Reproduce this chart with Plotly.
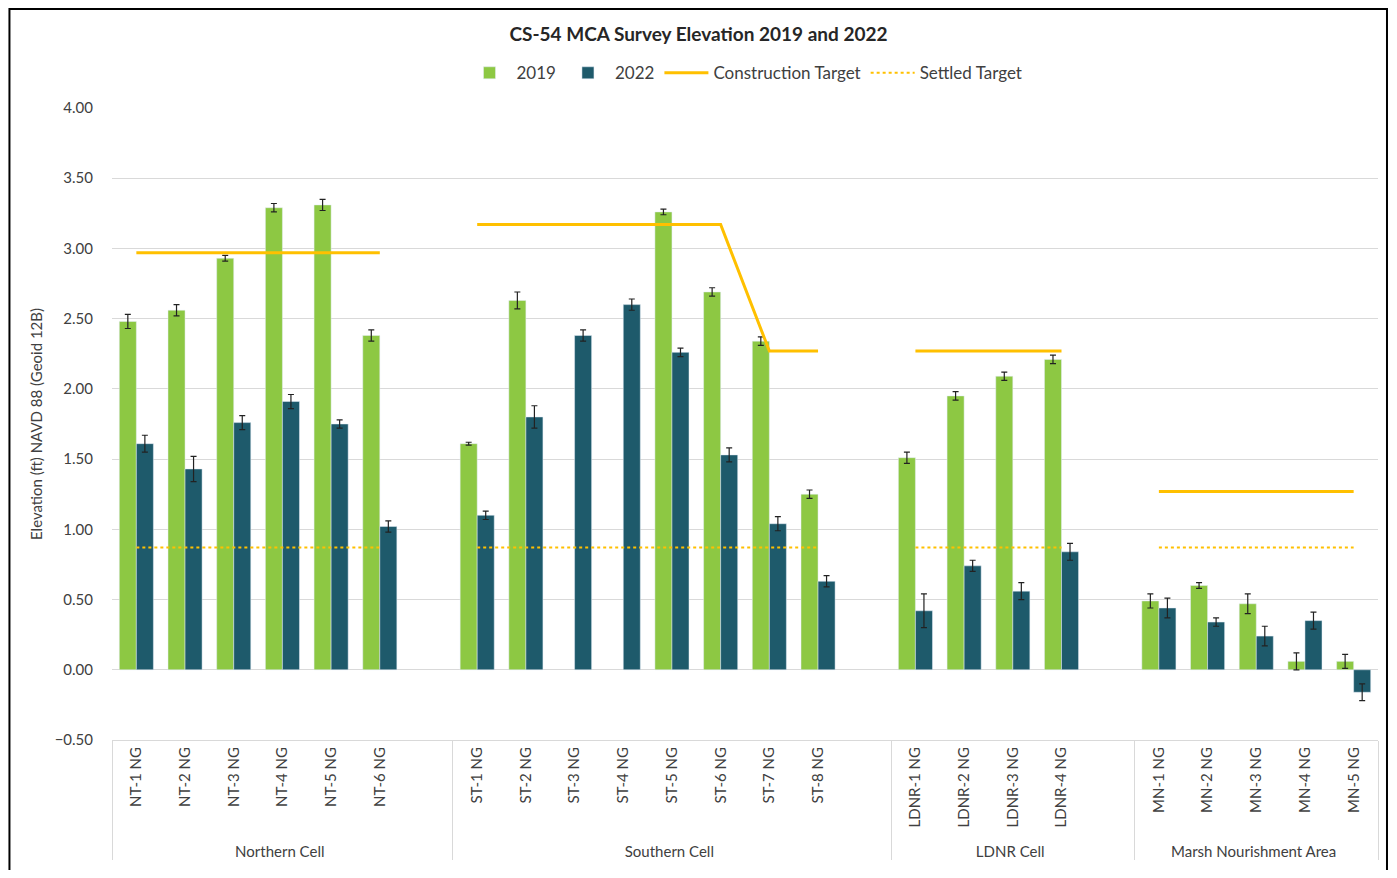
import plotly.graph_objects as go

# category layout (a blank slot closes each of the first three groups, as in the source sheet)
groups = ["Northern Cell"] * 7 + ["Southern Cell"] * 9 + ["LDNR Cell"] * 5 + ["Marsh Nourishment Area"] * 5
stations = [
    "NT-1 NG", "NT-2 NG", "NT-3 NG", "NT-4 NG", "NT-5 NG", "NT-6 NG", " ",
    "ST-1 NG", "ST-2 NG", "ST-3 NG", "ST-4 NG", "ST-5 NG", "ST-6 NG", "ST-7 NG", "ST-8 NG", "  ",
    "LDNR-1 NG", "LDNR-2 NG", "LDNR-3 NG", "LDNR-4 NG", "   ",
    "MN-1 NG", "MN-2 NG", "MN-3 NG", "MN-4 NG", "MN-5 NG",
]

elev_2019 = [
    2.48, 2.56, 2.93, 3.29, 3.31, 2.38, None,
    1.61, 2.63, None, None, 3.26, 2.69, 2.34, 1.25, None,
    1.51, 1.95, 2.09, 2.21, None,
    0.49, 0.60, 0.47, 0.06, 0.06,
]
err_2019 = [
    0.05, 0.04, 0.02, 0.03, 0.04, 0.04, 0,
    0.01, 0.06, 0, 0, 0.02, 0.03, 0.03, 0.03, 0,
    0.04, 0.03, 0.03, 0.03, 0,
    0.05, 0.02, 0.07, 0.06, 0.05,
]
elev_2022 = [
    1.61, 1.43, 1.76, 1.91, 1.75, 1.02, None,
    1.10, 1.80, 2.38, 2.60, 2.26, 1.53, 1.04, 0.63, None,
    0.42, 0.74, 0.56, 0.84, None,
    0.44, 0.34, 0.24, 0.35, -0.16,
]
err_2022 = [
    0.06, 0.09, 0.05, 0.05, 0.03, 0.04, 0,
    0.03, 0.08, 0.04, 0.04, 0.03, 0.05, 0.05, 0.04, 0,
    0.12, 0.04, 0.06, 0.06, 0,
    0.07, 0.03, 0.07, 0.06, 0.06,
]
construction_target = [
    2.97, 2.97, 2.97, 2.97, 2.97, 2.97, None,
    3.17, 3.17, 3.17, 3.17, 3.17, 3.17, 2.27, 2.27, None,
    2.27, 2.27, 2.27, 2.27, None,
    1.27, 1.27, 1.27, 1.27, 1.27,
]
settled_target = [
    0.87, 0.87, 0.87, 0.87, 0.87, 0.87, None,
    0.87, 0.87, 0.87, 0.87, 0.87, 0.87, 0.87, 0.87, None,
    0.87, 0.87, 0.87, 0.87, None,
    0.87, 0.87, 0.87, 0.87, 0.87,
]

GREEN = "#8DC843"
TEAL = "#1E5A6B"
GOLD = "#FFC000"
FONT = "Lato"
TXT = "#404040"

x = [groups, stations]
fig = go.Figure()

err_style = dict(type="data", color="#222222", thickness=1.2, width=3)

fig.add_trace(go.Bar(
    x=x, y=elev_2019, name="2019", marker_color=GREEN,
    error_y=dict(array=err_2019, **err_style),
))
fig.add_trace(go.Bar(
    x=x, y=elev_2022, name="2022", marker_color=TEAL,
    error_y=dict(array=err_2022, **err_style),
))
fig.add_trace(go.Scatter(
    x=x, y=construction_target, name="Construction Target", mode="lines",
    line=dict(color=GOLD, width=3), connectgaps=False,
))
fig.add_trace(go.Scatter(
    x=x, y=settled_target, name="Settled Target", mode="lines",
    line=dict(color=GOLD, width=2, dash="dot"), connectgaps=False,
))

# page body adds an 8px offset, so the figure is sized to fit inside it
fig.update_layout(
    width=1381, height=862,
    paper_bgcolor="white", plot_bgcolor="white",
    font=dict(family=FONT, size=15, color=TXT),
    title=dict(
        text="<b>CS-54 MCA Survey Elevation 2019 and 2022</b>",
        x=0.5, xanchor="center", y=0.970, yanchor="middle",
        font=dict(family=FONT, size=19, color="#262626"),
    ),
    legend=dict(
        orientation="h", x=0.5, xanchor="center", y=1.055, yanchor="middle",
        font=dict(family=FONT, size=17, color=TXT),
        itemwidth=44, traceorder="normal",
    ),
    barmode="group", bargap=0.3, bargroupgap=0,
    margin=dict(l=104, r=11, t=100, b=130, autoexpand=False),
    showlegend=True,
    shapes=[dict(
        type="rect", xref="paper", yref="paper",
        x0=-0.0810, x1=1.0071, y0=-0.4, y1=1.1566,
        line=dict(color="black", width=2), fillcolor="rgba(0,0,0,0)", layer="below",
    )],
)

fig.update_yaxes(
    range=[-0.5, 4.0], dtick=0.5, tickformat=".2f",
    showgrid=True, gridcolor="#D9D9D9", gridwidth=1,
    zeroline=True, zerolinecolor="#D9D9D9", zerolinewidth=1,
    showline=False, ticks="", ticklabelstandoff=18,
    tickfont=dict(family=FONT, size=15, color=TXT),
    title=dict(text="Elevation (ft) NAVD 88 (Geoid 12B)", standoff=8,
               font=dict(family=FONT, size=15, color=TXT)),
)
fig.update_xaxes(
    type="multicategory", tickangle=-90,
    showline=True, linecolor="#D9D9D9", linewidth=1,
    showdividers=True, dividercolor="#D9D9D9", dividerwidth=1,
    tickfont=dict(family=FONT, size=15, color=TXT),
    ticks="",
)

fig.write_html("out.html")
